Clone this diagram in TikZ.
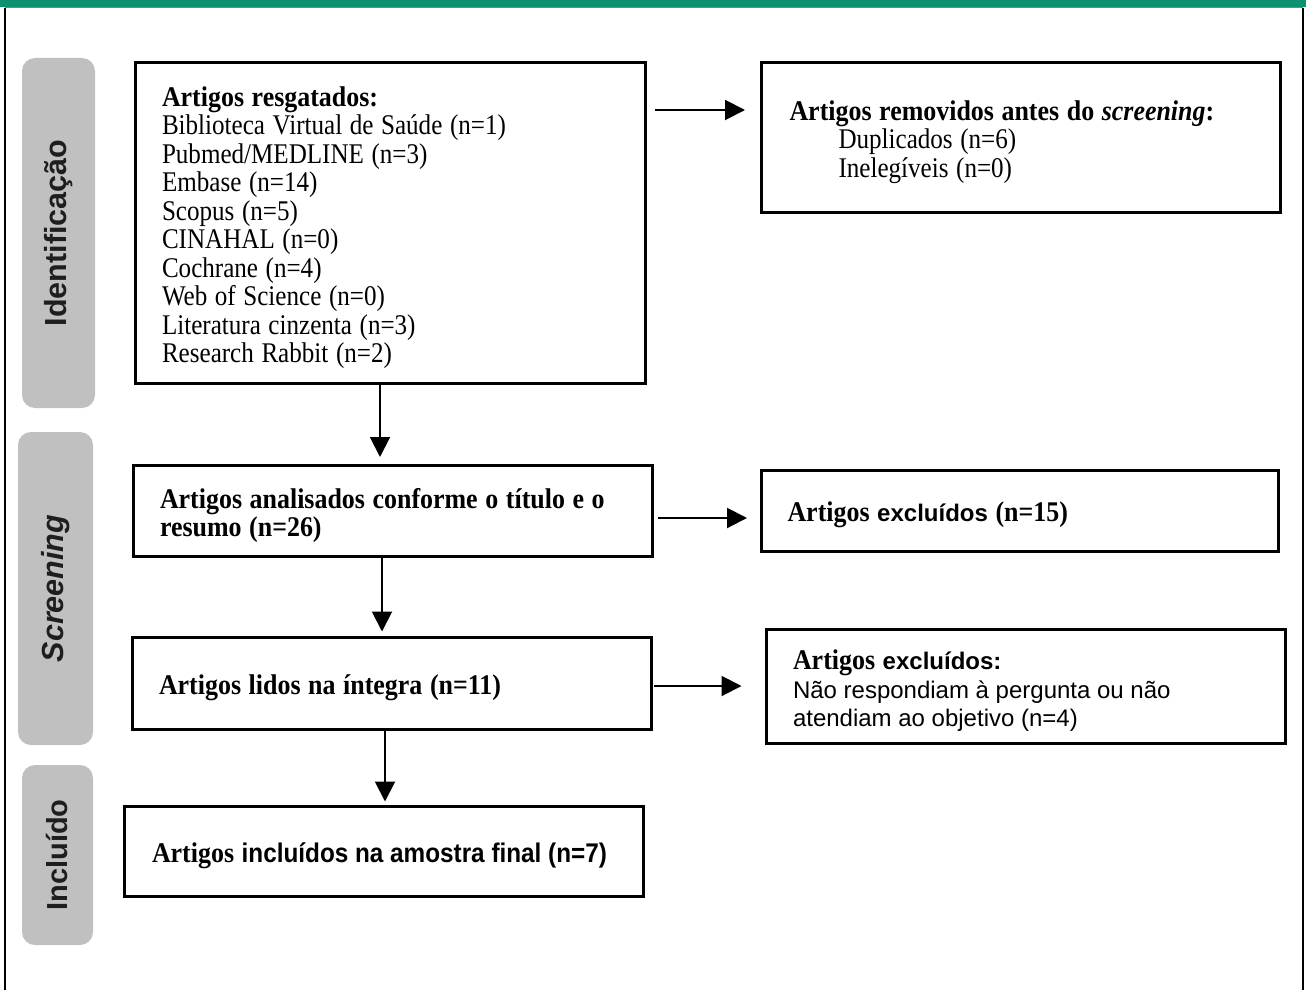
\documentclass[tikz,border=0pt]{standalone}
\usepackage{fontspec}
\setmainfont{Liberation Serif}[
  UprightFeatures={FakeStretch=0.88},
  ItalicFeatures={FakeStretch=0.88},
  BoldFeatures={FakeStretch=0.91},
  BoldItalicFeatures={FakeStretch=0.91}]
\setsansfont{Liberation Sans}
\newfontfamily\sfnarrow{Liberation Sans}[FakeStretch=0.9]
\protected\def\serifspaces{\spaceskip=7.6pt plus 2pt minus 1pt\relax}
\protected\def\sfpart{\sffamily\spaceskip=0pt\relax}
\protected\def\sfnarrowpart{\sfnarrow\spaceskip=0pt\relax}
\usetikzlibrary{arrows.meta,calc}
\definecolor{topgreen}{RGB}{11,145,110}
\definecolor{labgray}{RGB}{192,192,192}
\definecolor{labtext}{RGB}{30,30,30}
\begin{document}
\begin{tikzpicture}[x=1pt,y=-1pt,
  flowbox/.style={draw, line width=3pt, align=left, inner xsep=27pt, inner ysep=0pt,
    font=\fontsize{28.5}{28.5}\selectfont, anchor=center,
    execute at begin node={\serifspaces\rule{0pt}{29pt}}},
  lab/.style={fill=labgray, rounded corners=13pt, rotate=90, inner sep=0pt,
    font=\fontsize{29}{32}\selectfont\sffamily\bfseries, text=labtext},
  arr/.style={line width=2pt, -{Triangle[length=20pt,width=20pt]}}
]
\useasboundingbox (0,0) rectangle (1306,990);
% top bar and frame
\fill[topgreen] (0,0) rectangle (1306,7.5);
\draw[line width=1pt, gray] (5,8) -- (1303,8);
\draw[line width=2pt] (5,8) -- (5,990);
\draw[line width=2pt] (1303,8) -- (1303,990);

% phase labels
\node[lab, minimum width=350pt, minimum height=73pt, font=\fontsize{30.5}{32}\selectfont\sffamily\bfseries] (lid) at (58.5,233) {Identificação};
\node[lab, minimum width=313pt, minimum height=75pt, font=\fontsize{30.5}{32}\selectfont\sffamily\bfseries] (lsc) at (55.5,588.5) {\itshape Screening};
\node[lab, minimum width=180pt, minimum height=71pt] (lin) at (57.5,855) {Incluído};

% boxes
\node[flowbox, text width=456pt, minimum height=320pt] (b1) at (390,223)
 {\textbf{Artigos resgatados:}\\
  Biblioteca Virtual de Saúde (n=1)\\
  Pubmed/MEDLINE (n=3)\\
  Embase (n=14)\\
  Scopus (n=5)\\
  CINAHAL (n=0)\\
  Cochrane (n=4)\\
  Web of Science (n=0)\\
  Literatura cinzenta (n=3)\\
  Research Rabbit (n=2)};

\node[flowbox, inner xsep=28pt, text width=463pt, minimum height=149pt] (r1) at (1021,137.5)
 {\textbf{Artigos removidos antes do \textit{screening}:}\\
  \hspace*{49pt}Duplicados (n=6)\\
  \hspace*{49pt}Inelegíveis (n=0)};

\node[flowbox, text width=465pt, minimum height=91pt] (b2) at (392.5,511)
 {\textbf{Artigos analisados conforme o título e o}\\
  \textbf{resumo (n=26)}};

\node[flowbox, inner xsep=26pt, text width=465pt, minimum height=81pt] (r2) at (1020,510.5)
 {\textbf{Artigos {\sfpart\fontsize{24}{28}\selectfont excluídos} (n=15)}};

\node[flowbox, text width=465pt, minimum height=92pt] (b3) at (391.5,683)
 {\textbf{Artigos lidos na íntegra (n=11)}};

\node[flowbox, text width=465pt, minimum height=114pt] (r3) at (1025.5,686)
 {\textbf{Artigos {\sfpart\fontsize{24}{28}\selectfont excluídos:}}\\
  {\sfpart\fontsize{24}{28}\selectfont Não respondiam à pergunta ou não}\\
  {\sfpart\fontsize{24}{28}\selectfont atendiam ao objetivo (n=4)}};

\node[flowbox, inner xsep=28pt, text width=463pt, minimum height=90pt] (b4) at (383.5,851)
 {\textbf{Artigos {\sfnarrowpart\fontsize{27}{28}\selectfont incluídos na amostra final (n=7)}}};

% helper positions for connectors
\coordinate (v1) at (380,0);
\coordinate (v2) at (382,0);
\coordinate (v3) at (385,0);
\coordinate (h1) at (0,110);
\coordinate (h2) at (0,518);
\coordinate (h3) at (0,686);

% connectors
\draw[arr, shorten <=8pt, shorten >=15pt] (b1.east |- h1) -- (r1.west |- h1);
\draw[arr, shorten >=7pt] (b1.south -| v1) -- (b2.north -| v1);
\draw[arr, shorten <=4pt, shorten >=13pt] (b2.east |- h2) -- (r2.west |- h2);
\draw[arr, shorten >=4pt] (b2.south -| v2) -- (b3.north -| v2);
\draw[arr, shorten <=1pt, shorten >=23pt] (b3.east |- h3) -- (r3.west |- h3);
\draw[arr, shorten >=3pt] (b3.south -| v3) -- (b4.north -| v3);
\end{tikzpicture}
\end{document}
